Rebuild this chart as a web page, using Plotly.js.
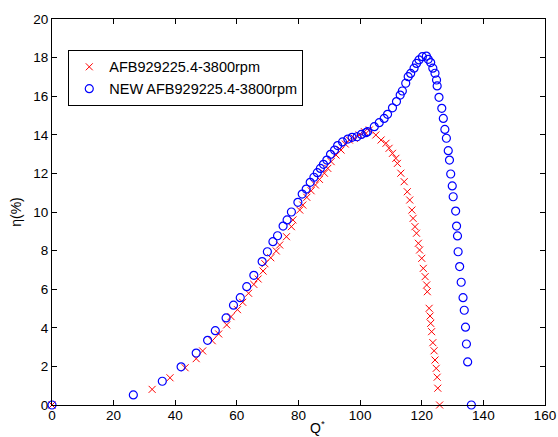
<!DOCTYPE html>
<html>
<head>
<meta charset="utf-8">
<script src="https://cdn.plot.ly/plotly-3.0.1.min.js"></script>
<style>html,body{margin:0;padding:0;background:#fff;}#chart{width:558px;height:437px;}</style>
</head>
<body>
<div id="chart"></div>
<script>
// Series 1: AFB929225.4-3800rpm (red x)
const oldQ = [0, 32.5, 38.3, 43.2, 46.8, 48.9, 52.0, 54.1, 56.7, 58.1, 60.2, 61.9, 63.8, 65.5, 66.9, 68.5, 69.1,
  71.0, 72.8, 73.9, 76.1, 77.7, 78.2, 80.4, 81.4, 82.7, 84.1, 85.5, 86.8, 88.4, 89.5, 90.6, 92.2, 93.8, 95.2, 96.5,
  98.1, 99.7, 101.4, 103.0, 105.1, 106.8, 108.4, 109.4, 110.5, 111.6, 112.1, 113.2, 114.3, 115.3, 116.1, 116.8,
  117.2, 117.8, 118.3, 118.9, 119.3, 120.0, 120.5, 121.1, 121.6, 121.8, 122.4, 122.7, 122.9, 123.2, 123.6, 124.0,
  124.3, 124.7, 125.0, 125.2, 125.8];
const oldEta = [0, 0.81, 1.41, 1.93, 2.40, 2.80, 3.33, 3.68, 4.15, 4.58, 4.94, 5.32, 5.79, 6.25, 6.53, 6.94, 7.32,
  7.63, 7.98, 8.29, 8.72, 9.24, 9.59, 10.10, 10.36, 10.76, 11.10, 11.40, 11.69, 12.01, 12.26, 12.61, 12.95, 13.21, 13.52, 13.73,
  13.82, 13.99, 14.16, 14.25, 13.99, 13.73, 13.56, 13.30, 13.04, 12.78, 12.52, 12.01, 11.57, 11.05, 10.62, 10.10,
  9.67, 9.24, 8.90, 8.38, 8.03, 7.60, 7.08, 6.65, 6.22, 5.87, 5.01, 4.61, 4.23, 3.80, 3.23, 2.81,
  2.33, 1.90, 1.44, 0.87, 0];

// Series 2: NEW AFB929225.4-3800rpm (blue circles)
const newQ = [0, 26.4, 35.8, 41.9, 46.8, 50.5, 53.0, 56.5, 58.9, 61.1, 63.2, 65.5, 68.2,
  69.9, 71.7, 73.2, 75.0, 76.3, 77.7, 79.8, 81.2, 82.5, 83.8, 85.0, 86.1, 87.1, 88.1, 89.2, 90.4, 91.7, 92.7,
  94.3, 96.0, 97.4, 99.0, 100.4, 101.9, 102.4, 104.6, 106.2, 107.8, 108.9, 110.5, 111.8, 113.0, 113.7, 114.8,
  115.6, 116.4, 117.5, 118.3, 119.1, 120.2, 121.5, 122.1, 122.9, 123.6, 124.3, 124.8, 125.0, 125.6, 126.5,
  127.0, 127.5, 128.0, 128.6, 129.0, 129.4, 129.9, 130.2, 131.0, 131.3, 131.6, 131.8, 132.3, 132.8, 133.4,
  133.8, 134.2, 134.5, 134.9, 136.1];
const newEta = [0, 0.52, 1.23, 1.98, 2.69, 3.35, 3.85, 4.51, 5.17, 5.56, 6.13, 6.72, 7.43,
  7.94, 8.46, 8.77, 9.27, 9.59, 10.00, 10.50, 10.93, 11.19, 11.54, 11.80, 12.04, 12.26, 12.47, 12.69, 12.99, 13.21, 13.44,
  13.63, 13.78, 13.87, 13.90, 14.02, 14.11, 14.16, 14.42, 14.63, 14.85, 15.06, 15.40, 15.72, 16.06, 16.27, 16.67,
  17.01, 17.18, 17.45, 17.70, 17.88, 18.05, 18.08, 17.91, 17.74, 17.45, 17.19, 16.84, 16.53, 15.94, 15.37,
  14.85, 14.28, 13.82, 13.18, 12.69, 11.97, 11.35, 10.79, 10.05, 9.27, 8.76, 7.94, 7.17, 6.36, 5.56,
  4.91, 4.03, 3.16, 2.23, 0];

const xTicks = [0, 20, 40, 60, 80, 100, 120, 140, 160];
const yTicks = [0, 2, 4, 6, 8, 10, 12, 14, 16, 18, 20];
const seriesNames = ['AFB929225.4-3800rpm', 'NEW AFB929225.4-3800rpm'];
const xTitle = 'Q<sup>*</sup>';
const yTitle = 'η(%)';

const fam = 'Liberation Sans, Arial, sans-serif';
const font = {family: fam, size: 14, color: '#000'};

const traces = [
  {x: oldQ, y: oldEta, name: seriesNames[0], type: 'scatter', mode: 'markers', cliponaxis: false,
   marker: {symbol: 'x-thin-open', size: 7, color: '#ff0000', line: {color: '#ff0000', width: 1}}},
  {x: newQ, y: newEta, name: seriesNames[1], type: 'scatter', mode: 'markers', cliponaxis: false,
   marker: {symbol: 'circle-open', size: 8, color: '#0000ff', line: {color: '#0000ff', width: 1.2}}}
];

const axisCommon = {
  showgrid: false, zeroline: false, showline: true, linecolor: '#000', linewidth: 1,
  mirror: 'ticks', ticks: 'inside', ticklen: 5, tickcolor: '#000', tickwidth: 1,
  tickfont: {family: fam, size: 13.5, color: '#000'}
};

const layout = {
  width: 558, height: 437,
  paper_bgcolor: '#fff', plot_bgcolor: '#fff',
  margin: {l: 52, r: 13, t: 19, b: 32},
  showlegend: true,
  font: font,
  xaxis: Object.assign({}, axisCommon, {
    range: [0, 160], tickmode: 'array', tickvals: xTicks, ticktext: xTicks.map(String),
    ticklabelstandoff: -2
  }),
  yaxis: Object.assign({}, axisCommon, {
    range: [0, 20], tickmode: 'array', tickvals: yTicks, ticktext: yTicks.map(String),
    title: {text: yTitle, font: font, standoff: 8}
  }),
  annotations: [{
    text: xTitle, xref: 'paper', yref: 'paper', x: 0.539, y: -0.058,
    xanchor: 'center', yanchor: 'middle', showarrow: false, font: font
  }],
  legend: {
    x: 0.033, y: 0.92, xanchor: 'left', yanchor: 'top',
    bgcolor: '#fff', bordercolor: '#000', borderwidth: 1,
    font: {family: fam, size: 14.5, color: '#000'},
    tracegroupgap: 0
  }
};

Plotly.newPlot('chart', traces, layout, {displayModeBar: false, staticPlot: true});
</script>
</body>
</html>
